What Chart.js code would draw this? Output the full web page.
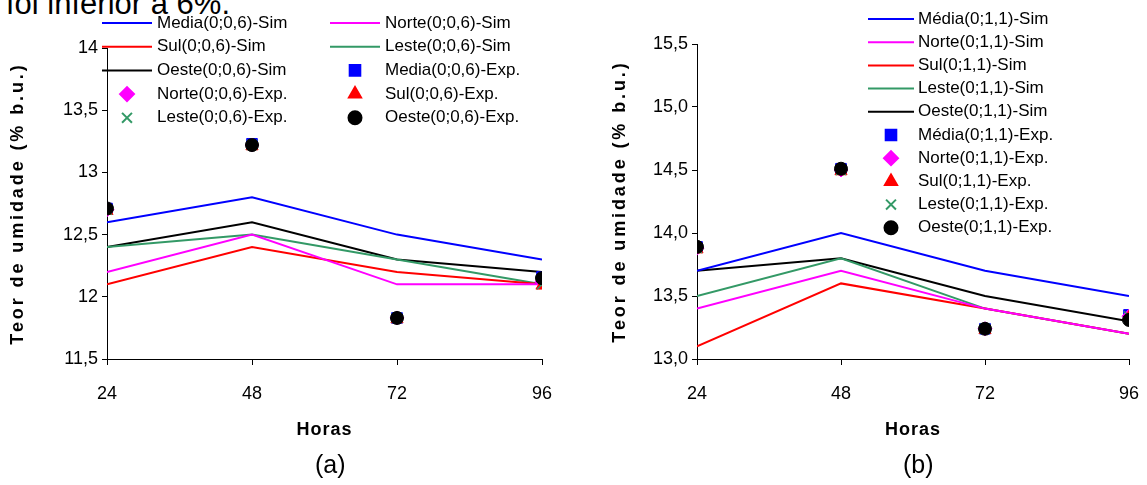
<!DOCTYPE html>
<html>
<head>
<meta charset="utf-8">
<script src="https://cdn.jsdelivr.net/npm/chart.js@4"></script>
<style>
  body { margin: 0; background: #fff; width: 1147px; height: 485px; overflow: hidden; position: relative; font-family: "Liberation Sans", Arial, sans-serif; }
  canvas { position: absolute; top: 0; }
  #cA { left: 0; }
  #cB { left: 575px; }
  .lbl { position: absolute; color: #000; white-space: nowrap; }
</style>
</head>
<body>
<div class="lbl" style="left:6px; top:-11px; font-size:31px; line-height:30px;">foi inferior a 6%.</div>
<canvas id="cA" width="575" height="485"></canvas>
<canvas id="cB" width="610" height="485"></canvas>
<div class="lbl" style="left:315px; top:451px; font-size:25px; line-height:26px;">(a)</div>
<div class="lbl" style="left:903px; top:451px; font-size:25px; line-height:26px;">(b)</div>
<script>
// horas
const hours = [24, 48, 72, 96];

// (a) 0,6 m/s
const mediaSimA = [12.6, 12.8, 12.5, 12.3];
const norteSimA = [12.2, 12.5, 12.1, 12.1];
const sulSimA   = [12.1, 12.4, 12.2, 12.1];
const lesteSimA = [12.4, 12.5, 12.3, 12.1];
const oesteSimA = [12.4, 12.6, 12.3, 12.2];
const mediaExpA = [12.71, 13.23, 11.83, 12.16];
const norteExpA = [12.70, 13.22, 11.83, 12.12];
const sulExpA   = [12.69, 13.21, 11.82, 12.09];
const lesteExpA = [12.70, 13.22, 11.83, 12.10];
const oesteExpA = [12.71, 13.22, 11.83, 12.15];
const yTicksA = ['11,5', '12', '12,5', '13', '13,5', '14'];

// (b) 1,1 m/s
const mediaSimB = [13.7, 14.0, 13.7, 13.5];
const norteSimB = [13.4, 13.7, 13.4, 13.2];
const sulSimB   = [13.1, 13.6, 13.4, 13.2];
const lesteSimB = [13.5, 13.8, 13.4, 13.2];
const oesteSimB = [13.7, 13.8, 13.5, 13.3];
const mediaExpB = [13.89, 14.51, 13.24, 13.35];
const norteExpB = [13.88, 14.50, 13.24, 13.34];
const sulExpB   = [13.87, 14.49, 13.23, 13.33];
const lesteExpB = [13.88, 14.50, 13.24, 13.34];
const oesteExpB = [13.89, 14.51, 13.24, 13.31];
const yTicksB = ['13,0', '13,5', '14,0', '14,5', '15,0', '15,5'];

const FONT = '"Liberation Sans", Arial, sans-serif';
const GREEN = '#339966';

function pts(vals) {
  return vals.map((v, i) => ({ x: hours[i], y: v }));
}
function sim(label, vals, color) {
  return { label: label, data: pts(vals), showLine: true, borderColor: color, backgroundColor: color,
           borderWidth: 2, pointRadius: 0, order: 10 };
}
function exp(label, vals, color, style, r, order) {
  return { label: label, data: pts(vals), showLine: false, borderColor: color, backgroundColor: color,
           pointStyle: style, pointRadius: r, pointBorderWidth: style === 'crossRot' ? 1.5 : 1, order: order };
}

// legend in a fixed grid + spaced-out axis titles
const gridLegend = {
  id: 'gridLegend',
  beforeDraw(chart) {
    ['x', 'y'].forEach(k => {
      const s = chart.scales[k];
      if (s && !s._spaced) {
        const orig = s.drawTitle;
        const sp = k === 'y' ? '2.9px' : '1px';
        s.drawTitle = function () {
          this.ctx.letterSpacing = sp;
          orig.apply(this, arguments);
          this.ctx.letterSpacing = '0px';
        };
        s._spaced = true;
      }
    });
  },
  afterDraw(chart, args, opts) {
    const ctx = chart.ctx;
    ctx.save();
    ctx.font = '17px ' + FONT;
    ctx.textBaseline = 'middle';
    chart.data.datasets.forEach((ds, i) => {
      const col = i % opts.cols, row = Math.floor(i / opts.cols);
      const x = opts.x[col], y = opts.y0 + row * opts.dy;
      ctx.strokeStyle = ds.borderColor;
      ctx.fillStyle = ds.backgroundColor;
      if (ds.showLine) {
        ctx.lineWidth = 2;
        ctx.beginPath();
        ctx.moveTo(x, y);
        ctx.lineTo(x + opts.lineW, y);
        ctx.stroke();
      } else {
        Chart.helpers.drawPoint(ctx, { pointStyle: ds.pointStyle, radius: ds.pointRadius,
          borderWidth: ds.pointBorderWidth, rotation: 0 }, x + opts.lineW / 2, y);
      }
      ctx.fillStyle = '#000';
      ctx.fillText(ds.label, x + opts.lineW + opts.gap, y);
    });
    ctx.restore();
  }
};

function makeChart(id, datasets, yMin, yMax, yTicks, pad, yWidth, yTitlePad, legendOpts) {
  return new Chart(document.getElementById(id), {
    type: 'scatter',
    data: { datasets: datasets },
    options: {
      responsive: false,
      animation: false,
      devicePixelRatio: 1,
      layout: { padding: pad },
      plugins: { legend: { display: false }, tooltip: { enabled: false }, gridLegend: legendOpts },
      scales: {
        x: {
          type: 'linear', min: 24, max: 96,
          afterFit: s => { s.height = 126; },
          border: { color: '#000', width: 1 },
          grid: { drawOnChartArea: false, color: '#000', tickLength: 6 },
          ticks: { stepSize: 24, color: '#000', padding: 18, font: { family: FONT, size: 18 } },
          title: { display: true, text: 'Horas', color: '#000', padding: { top: 0, bottom: 44 },
                   font: { family: FONT, size: 18, weight: 'bold' } }
        },
        y: {
          min: yMin, max: yMax,
          afterFit: s => { s.width = yWidth; },
          border: { color: '#000', width: 1 },
          grid: { drawOnChartArea: false, color: '#000', tickLength: 5 },
          ticks: { stepSize: 0.5, color: '#000', padding: 4, font: { family: FONT, size: 18 },
                   callback: (v, i) => yTicks[i] },
          title: { display: true, text: 'Teor de umidade (% b.u.)', color: '#000', padding: { top: yTitlePad, bottom: 0 },
                   font: { family: FONT, size: 18, weight: 'bold' } }
        }
      }
    },
    plugins: [gridLegend]
  });
}

makeChart('cA', [
  sim('Media(0;0,6)-Sim', mediaSimA, '#0000FF'),
  sim('Norte(0;0,6)-Sim', norteSimA, '#FF00FF'),
  sim('Sul(0;0,6)-Sim', sulSimA, '#FF0000'),
  sim('Leste(0;0,6)-Sim', lesteSimA, GREEN),
  sim('Oeste(0;0,6)-Sim', oesteSimA, '#000000'),
  exp('Media(0;0,6)-Exp.', mediaExpA, '#0000FF', 'rect', 7.5, 5),
  exp('Norte(0;0,6)-Exp.', norteExpA, '#FF00FF', 'rectRot', 7, 4),
  exp('Sul(0;0,6)-Exp.', sulExpA, '#FF0000', 'triangle', 7, 3),
  exp('Leste(0;0,6)-Exp.', lesteExpA, GREEN, 'crossRot', 7, 2),
  exp('Oeste(0;0,6)-Exp.', oesteExpA, '#000000', 'circle', 6.5, 1)
], 11.5, 14, yTicksA, { top: 48, right: 33, left: 0, bottom: 0 }, 107, 7,
  { cols: 2, x: [102, 330], y0: 23, dy: 23.7, lineW: 50, gap: 5 });

makeChart('cB', [
  sim('Média(0;1,1)-Sim', mediaSimB, '#0000FF'),
  sim('Norte(0;1,1)-Sim', norteSimB, '#FF00FF'),
  sim('Sul(0;1,1)-Sim', sulSimB, '#FF0000'),
  sim('Leste(0;1,1)-Sim', lesteSimB, GREEN),
  sim('Oeste(0;1,1)-Sim', oesteSimB, '#000000'),
  exp('Média(0;1,1)-Exp.', mediaExpB, '#0000FF', 'rect', 7.5, 5),
  exp('Norte(0;1,1)-Exp.', norteExpB, '#FF00FF', 'rectRot', 7, 4),
  exp('Sul(0;1,1)-Exp.', sulExpB, '#FF0000', 'triangle', 7, 3),
  exp('Leste(0;1,1)-Exp.', lesteExpB, GREEN, 'crossRot', 7, 2),
  exp('Oeste(0;1,1)-Exp.', oesteExpB, '#000000', 'circle', 6.5, 1)
], 13.0, 15.5, yTicksB, { top: 44, right: 56, left: 0, bottom: 0 }, 122, 34,
  { cols: 1, x: [293], y0: 19, dy: 23.2, lineW: 46, gap: 4 });
</script>
</body>
</html>
